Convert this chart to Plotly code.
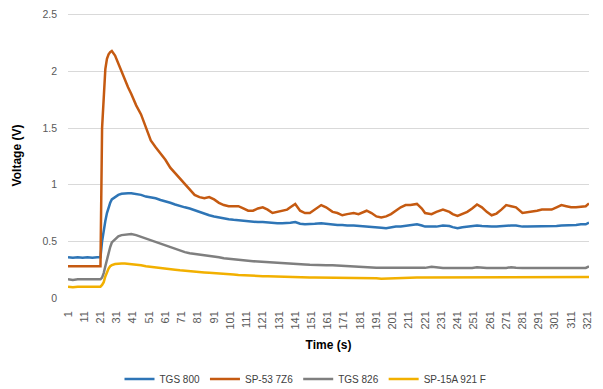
import plotly.graph_objects as go

time_s = [
    1, 4, 7, 10, 13, 16, 19, 21, 22, 23,
    24, 25, 26, 27, 28, 30, 32, 34, 36, 38,
    40, 43, 46, 49, 52, 55, 58, 61, 64, 67,
    70, 73, 76, 79, 82, 85, 88, 91, 94, 97,
    100, 103, 106, 109, 112, 115, 118, 121, 124, 127,
    130, 133, 136, 138, 141, 144, 147, 150, 153, 157,
    160, 164, 167, 170, 173, 177, 180, 183, 185, 188,
    191, 194, 197, 200, 203, 206, 209, 212, 216, 219,
    221, 225, 228, 232, 236, 238, 241, 244, 247, 250,
    253, 256, 259, 262, 265, 268, 271, 274, 277, 281,
    284, 287, 290, 293, 296, 299, 302, 305, 308, 311,
    314, 317, 320, 322,
]

tgs_800 = [
    0.36, 0.355, 0.36, 0.355, 0.36, 0.355, 0.36, 0.36, 0.50, 0.60,
    0.68, 0.75, 0.80, 0.84, 0.87, 0.89, 0.91, 0.92, 0.925, 0.925,
    0.925, 0.92, 0.91, 0.895, 0.89, 0.88, 0.865, 0.855, 0.84, 0.825,
    0.81, 0.80, 0.79, 0.775, 0.755, 0.74, 0.73, 0.72, 0.71, 0.70,
    0.695, 0.69, 0.685, 0.68, 0.68, 0.675, 0.67, 0.67, 0.665, 0.66,
    0.66, 0.66, 0.66, 0.665, 0.67, 0.655, 0.65, 0.65, 0.655, 0.66,
    0.655, 0.65, 0.645, 0.645, 0.64, 0.64, 0.637, 0.635, 0.635, 0.63,
    0.625, 0.62, 0.615, 0.625, 0.63, 0.63, 0.635, 0.64, 0.65, 0.64,
    0.63, 0.63, 0.63, 0.64, 0.635, 0.625, 0.615, 0.625, 0.63, 0.635,
    0.64, 0.635, 0.63, 0.63, 0.63, 0.635, 0.64, 0.64, 0.64, 0.63,
    0.63, 0.63, 0.63, 0.63, 0.63, 0.63, 0.635, 0.64, 0.64, 0.645,
    0.645, 0.65, 0.65, 0.665,
]

sp_53_7z6 = [
    0.28, 0.28, 0.28, 0.28, 0.28, 0.28, 0.28, 0.28, 1.50, 1.82,
    2.02, 2.11, 2.15, 2.17, 2.18, 2.14, 2.07, 2.00, 1.92, 1.86,
    1.80, 1.70, 1.62, 1.50, 1.39, 1.33, 1.28, 1.22, 1.15, 1.10,
    1.05, 1.00, 0.95, 0.91, 0.89, 0.88, 0.89, 0.87, 0.84, 0.82,
    0.81, 0.81, 0.81, 0.79, 0.77, 0.77, 0.79, 0.80, 0.78, 0.75,
    0.76, 0.77, 0.78, 0.80, 0.83, 0.77, 0.75, 0.75, 0.78, 0.82,
    0.80, 0.76, 0.75, 0.73, 0.74, 0.75, 0.74, 0.76, 0.77, 0.75,
    0.72, 0.71, 0.72, 0.74, 0.77, 0.80, 0.82, 0.82, 0.83, 0.79,
    0.75, 0.74, 0.76, 0.78, 0.76, 0.74, 0.725, 0.74, 0.76, 0.79,
    0.825, 0.80, 0.76, 0.73, 0.745, 0.78, 0.82, 0.81, 0.80, 0.75,
    0.755, 0.76, 0.77, 0.78, 0.78, 0.78, 0.80, 0.82, 0.81, 0.80,
    0.80, 0.805, 0.81, 0.835,
]

tgs_826 = [
    0.165, 0.16, 0.165, 0.165, 0.16, 0.165, 0.165, 0.165, 0.18, 0.22,
    0.28, 0.34, 0.40, 0.45, 0.49, 0.52, 0.545, 0.555, 0.56, 0.565,
    0.565, 0.555, 0.54, 0.525, 0.51, 0.495, 0.48, 0.465, 0.45, 0.435,
    0.415, 0.405, 0.395, 0.39, 0.385, 0.38, 0.37, 0.365, 0.36, 0.35,
    0.345, 0.34, 0.335, 0.33, 0.327, 0.325, 0.322, 0.32, 0.318, 0.315,
    0.312, 0.31, 0.307, 0.305, 0.30, 0.298, 0.296, 0.293, 0.29, 0.289,
    0.289, 0.289, 0.286, 0.283, 0.28, 0.278, 0.275, 0.272, 0.27, 0.268,
    0.268, 0.268, 0.268, 0.268, 0.267, 0.267, 0.266, 0.266, 0.266, 0.266,
    0.266, 0.275, 0.27, 0.265, 0.265, 0.265, 0.265, 0.265, 0.265, 0.265,
    0.272, 0.266, 0.265, 0.265, 0.265, 0.265, 0.265, 0.272, 0.266, 0.265,
    0.265, 0.265, 0.265, 0.265, 0.265, 0.265, 0.265, 0.265, 0.265, 0.265,
    0.265, 0.265, 0.265, 0.28,
]

sp_15a_921f = [
    0.10, 0.095, 0.10, 0.10, 0.095, 0.10, 0.10, 0.10, 0.115, 0.14,
    0.19, 0.23, 0.26, 0.28, 0.29, 0.30, 0.305, 0.305, 0.304, 0.302,
    0.30, 0.295, 0.288, 0.28, 0.274, 0.27, 0.265, 0.26, 0.255, 0.25,
    0.245, 0.24, 0.235, 0.232, 0.23, 0.226, 0.223, 0.221, 0.218, 0.214,
    0.21, 0.207, 0.203, 0.20, 0.196, 0.195, 0.194, 0.193, 0.192, 0.19,
    0.188, 0.186, 0.184, 0.183, 0.181, 0.18, 0.18, 0.18, 0.18, 0.18,
    0.18, 0.18, 0.18, 0.18, 0.18, 0.18, 0.18, 0.18, 0.18, 0.18,
    0.175, 0.17, 0.172, 0.174, 0.175, 0.176, 0.177, 0.178, 0.18, 0.18,
    0.18, 0.18, 0.18, 0.18, 0.18, 0.18, 0.18, 0.18, 0.18, 0.18,
    0.18, 0.18, 0.18, 0.18, 0.18, 0.18, 0.18, 0.18, 0.18, 0.18,
    0.18, 0.18, 0.18, 0.18, 0.18, 0.18, 0.18, 0.18, 0.18, 0.18,
    0.18, 0.18, 0.18, 0.185,
]

series_names = ["TGS 800", "SP-53 7Z6", "TGS 826", "SP-15A 921 F"]
series_values = [tgs_800, sp_53_7z6, tgs_826, sp_15a_921f]
series_colors = ["#2E75B6", "#C55A11", "#7F7F7F", "#F2B000"]

x_tick_vals = list(range(1, 322, 10))
y_tick_vals = [0, 0.5, 1, 1.5, 2, 2.5]
y_tick_text = ["0", "0.5", "1", "1.5", "2", "2.5"]

fig = go.Figure()
for name, vals, col in zip(series_names, series_values, series_colors):
    fig.add_trace(go.Scatter(
        x=time_s, y=vals, mode="lines", name=name,
        line=dict(color=col, width=2.5),
    ))

FONT = "Liberation Sans, Arial, sans-serif"

# page body has an 8px default margin, so the figure is sized 8px smaller
fig.update_layout(
    width=595, height=381,
    margin=dict(l=60, r=14, t=5, b=91),
    paper_bgcolor="white", plot_bgcolor="white",
    font=dict(family=FONT, size=10, color="#595959"),
    showlegend=True,
    legend=dict(
        orientation="h", xref="container", yref="container",
        x=0.5, xanchor="center", y=0.026, yanchor="middle",
        font=dict(size=10, color="#404040"),
        itemwidth=30, tracegroupgap=0,
    ),
    xaxis=dict(
        range=[1, 322], tickmode="array", tickvals=x_tick_vals,
        ticktext=[str(v) for v in x_tick_vals], tickangle=-90,
        tickfont=dict(size=11),
        showgrid=False, zeroline=False, showline=False, ticks="",
        ticklabelstandoff=10, automargin=False,
        title=dict(text="<b>Time (s)</b>", font=dict(size=12, color="#000000"), standoff=12),
    ),
    yaxis=dict(
        range=[0, 2.515], tickmode="array", tickvals=y_tick_vals, ticktext=y_tick_text,
        tickfont=dict(size=10.5),
        showgrid=True, gridcolor="#D9D9D9", gridwidth=1,
        zeroline=False, showline=False, ticks="",
        ticklabelstandoff=10, automargin=False,
        title=dict(text="<b>Voltage (V)</b>", font=dict(size=12, color="#000000"), standoff=18),
    ),
)

fig.write_html("out.html")
